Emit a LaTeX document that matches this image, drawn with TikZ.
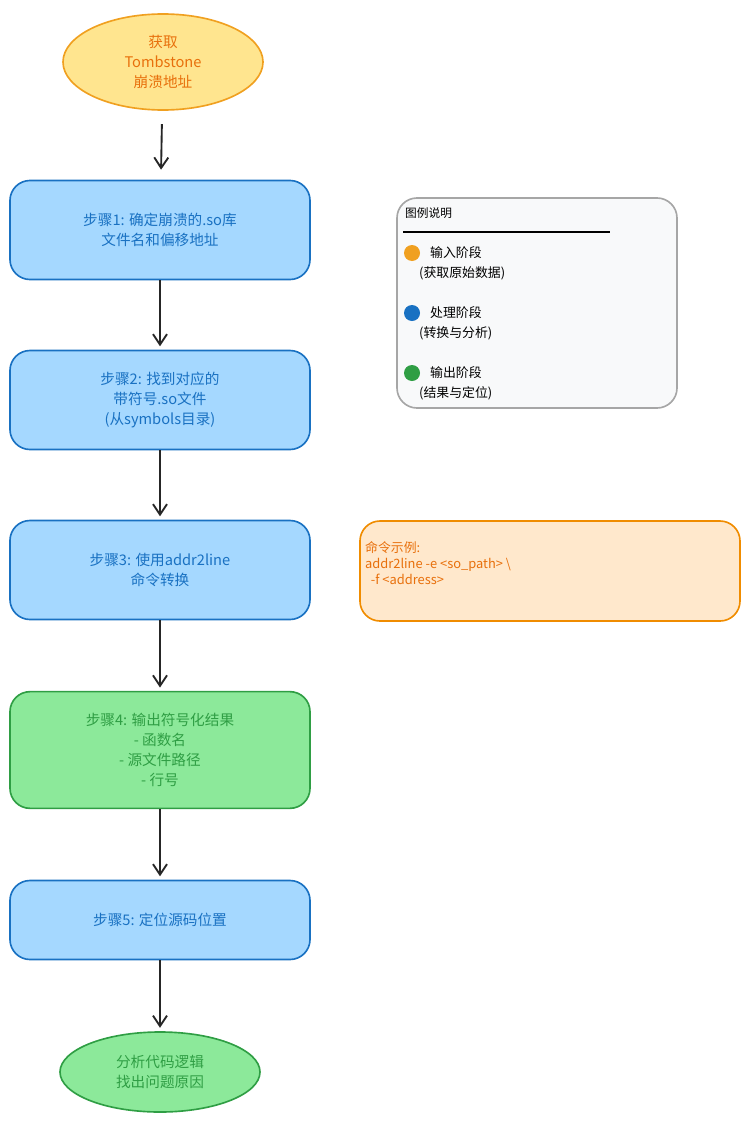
\documentclass[tikz,border=0pt]{standalone}
\usepackage{fontspec}
\setmainfont{Noto Sans CJK SC}
\usetikzlibrary{positioning,arrows.meta,shapes.geometric}
\definecolor{orfill}{HTML}{FFE58F}
\definecolor{ordraw}{HTML}{F0A020}
\definecolor{ortext}{HTML}{E8700C}
\definecolor{blfill}{HTML}{A5D8FF}
\definecolor{bldraw}{HTML}{1971C2}
\definecolor{grfill}{HTML}{8CE99A}
\definecolor{grdraw}{HTML}{2F9E44}
\definecolor{cmdfill}{HTML}{FFE8CC}
\definecolor{cmddraw}{HTML}{F08C00}
\definecolor{legfill}{HTML}{F8F9FA}
\tikzset{
  stepbox/.style={draw=bldraw, fill=blfill, text=bldraw, line width=1.4pt, rounded corners=0.6cm,
    minimum width=9cm, minimum height=2.97cm, align=center, font=\fontsize{12.5}{17}\selectfont},
  stepgr/.style={stepbox, draw=grdraw, fill=grfill, text=grdraw},
  term/.style={ellipse, line width=1.4pt, minimum width=6cm, align=center, font=\fontsize{12.5}{17}\selectfont},
  flow/.style={-{Straight Barb[length=9pt,width=12pt]}, line width=1.6pt, black!85}
}
\begin{document}
\begin{tikzpicture}[x=0.03cm,y=-0.03cm]
\useasboundingbox (0,0) rectangle (750,1121);
% flow
\node[term, draw=ordraw, fill=orfill, text=ortext, minimum height=2.88cm] (start) at (163,62) {获取\\Tombstone\\崩溃地址};
\node[stepbox] (s1) at (160,230) {步骤1: 确定崩溃的.so库\\文件名和偏移地址};
\node[stepbox] (s2) at (160,400) {步骤2: 找到对应的\\带符号.so文件\\(从symbols目录)};
\node[stepbox] (s3) at (160,570) {步骤3: 使用addr2line\\命令转换};
\node[stepgr, minimum height=3.5cm] (s4) at (160,750) {步骤4: 输出符号化结果\\- 函数名\\- 源文件路径\\- 行号};
\node[stepbox, minimum height=2.37cm] (s5) at (160,920) {步骤5: 定位源码位置};
\node[term, draw=grdraw, fill=grfill, text=grdraw, minimum height=2.4cm] (end) at (160,1072) {分析代码逻辑\\找出问题原因};
\draw[flow, shorten <=0.4cm, shorten >=0.3cm] (start) -- (s1);
\draw[flow, shorten >=0.1cm] (s1) -- (s2);
\draw[flow, shorten >=0.1cm] (s2) -- (s3);
\draw[flow, shorten >=0.1cm] (s3) -- (s4);
\draw[flow, shorten >=0.1cm] (s4) -- (s5);
\draw[flow, shorten >=0.1cm] (s5) -- (end);
% legend
\node[draw=gray!70, fill=legfill, line width=1.4pt, rounded corners=0.6cm,
  minimum width=8.4cm, minimum height=6.3cm] (legend) at (537,303) {};
\node[anchor=west, font=\fontsize{10}{12}\selectfont] (legtitle) at (401,213) {图例说明};
\draw[line width=1pt] (403,232) -- (610,232);
\foreach \y/\c/\a/\b in {253/ordraw/输入阶段/获取原始数据, 313/bldraw/处理阶段/转换与分析, 373/grdraw/输出阶段/结果与定位}{
  \fill[\c] (412,\y) circle (0.24cm);
  \node[anchor=west, font=\fontsize{11}{13}\selectfont] at (426,\y) {\a};
  \node[anchor=west, font=\fontsize{11}{13}\selectfont] at (415,\y+20) {(\b)};
}
% command
\node[draw=cmddraw, fill=cmdfill, line width=1.4pt, rounded corners=0.6cm,
  minimum width=11.4cm, minimum height=3cm] (cmd) at (550,571) {};
\node[anchor=north west, align=left, text=ortext, font=\fontsize{11}{14}\selectfont] at (361,537)
  {命令示例:\\addr2line -e <so\_path> \textbackslash\\\ \ -f <address>};
\end{tikzpicture}
\end{document}
